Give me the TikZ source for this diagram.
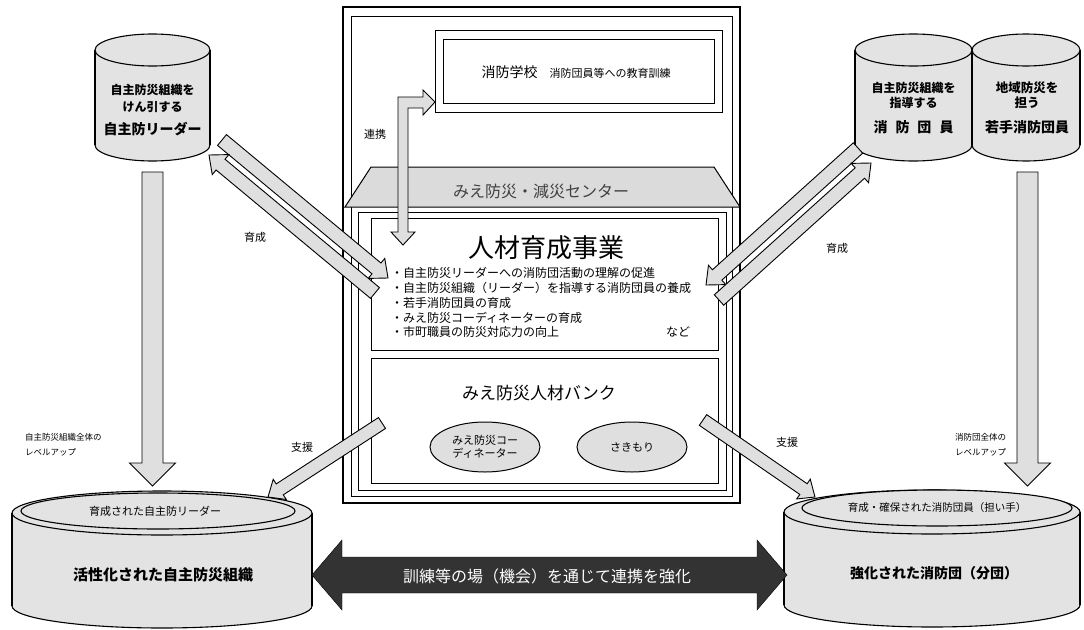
\documentclass[tikz,border=0pt]{standalone}
\usepackage{fontspec}
\setmainfont{Noto Sans CJK JP}
\usetikzlibrary{calc,shapes.geometric}
\tikzset{
  lbl/.style = {inner sep=0pt, outer sep=0pt, font=\fontsize{#1}{#1}\selectfont},
  lbl/.default = 11,
  blbl/.style = {inner sep=0pt, outer sep=0pt, font=\fontsize{#1}{#1}\selectfont\bfseries},
  blbl/.default = 12,
  frame/.style = {draw=black, line width=1pt},
  tone/.style = {fill=gray!28, draw=black, line width=1pt},
  blk/.style = {fill=gray!25, draw=black, line width=0.9pt},
  cyl/.style = {fill=gray!22, draw=black, line width=1.1pt},
  oval/.style = {ellipse, draw=black, line width=1pt, fill=gray!25,
                 minimum width=110pt, minimum height=50pt, inner sep=0pt,
                 align=center, font=\fontsize{11}{13}\selectfont}
}
% block arrow: [style]{from}{to}{half shaft}{half head}{head length}
\newcommand{\barrow}[6][blk]{%
  \coordinate (bh) at ($(#3)!#6!(#2)$);
  \filldraw[#1] ($(#2)!#4!90:(#3)$) -- ($(bh)!#4!90:(#3)$) -- ($(bh)!#5!90:(#3)$)
    -- (#3) -- ($(bh)!#5!-90:(#3)$) -- ($(bh)!#4!-90:(#3)$) -- ($(#2)!#4!-90:(#3)$) -- cycle;
}
% drum: {cx}{top}{bottom}{rx}{ry}
\newcommand{\drum}[5]{%
  \filldraw[cyl] (#1,#3) ellipse[x radius=#4, y radius=#5];
  \fill[gray!22] (#1-#4,#2) rectangle (#1+#4,#3);
  \draw[line width=1.1pt] (#1-#4,#2) -- (#1-#4,#3) (#1+#4,#2) -- (#1+#4,#3);
  \filldraw[cyl] (#1,#2) ellipse[x radius=#4, y radius=#5];
}
\begin{document}
\begin{tikzpicture}[x=1pt, y=-1pt]
	\useasboundingbox (0,0) rectangle (1084,629);

	% Outer frame
	\draw[frame, line width=1.3pt] (343,7) rectangle (740,503);
	\draw[frame] (351,16) rectangle (732,496);

	% Fire school
	\draw[frame] (435,30) rectangle (722,112);
	\draw[frame] (443,39) rectangle (714,103);
	\node[lbl=14] (school) at (576,72) {消防学校\hspace{12pt}{\fontsize{11}{11}\selectfont 消防団員等への教育訓練}};

	% Centre building
	\draw[frame] (358,212) rectangle (726,490);
	\filldraw[tone] (345,207) -- (371,167) -- (714,167) -- (740,207) -- cycle;
	\node[lbl=16, text=black!75] (centre) at (541,191) {みえ防災・減災センター};

	% Training box
	\draw[frame] (371,218) rectangle (718,350);
	\node[lbl=26] (jinzai) at (546,248) {人材育成事業};
	\node[lbl=12, anchor=west] (task1) at (391,273) {・自主防災リーダーへの消防団活動の理解の促進};
	\node[lbl=12, anchor=west] (task2) at (391,288) {・自主防災組織（リーダー）を指導する消防団員の養成};
	\node[lbl=12, anchor=west] (task3) at (391,303) {・若手消防団員の育成};
	\node[lbl=12, anchor=west] (task4) at (391,318) {・みえ防災コーディネーターの育成};
	\node[lbl=12, anchor=west] (task5) at (391,332) {・市町職員の防災対応力の向上};
	\node[lbl=12] (nado) at (678,332) {など};

	% Human resources bank
	\draw[frame] (371,358) rectangle (718,483);
	\node[lbl=17] (bank) at (539,393) {みえ防災人材バンク};
	\node[oval] (coord) at (485,447) {みえ防災コー\\ディネーター};
	\node[oval] (sakimori) at (632,447) {さきもり};

	% Link school <-> training
	\filldraw[blk] (403,245) -- (415,232) -- (408,232) -- (408,108) -- (423,108) -- (423,115)
		-- (435,102) -- (423,90) -- (423,97) -- (398,97) -- (398,232) -- (391,232) -- cycle;
	\node[lbl=11] (renkei) at (375,134) {連携};

	% Top drums
	\drum{152.5}{50}{145}{57.5}{16}
	\drum{1026}{50}{145}{54}{16}
	\drum{913.5}{50}{145}{58.5}{16}
	\node[blbl=12] (leadA) at (152.5,90) {自主防災組織を};
	\node[blbl=12] (leadB) at (152.5,107) {けん引する};
	\node[blbl=14] (leadC) at (152.5,129) {自主防リーダー};
	\node[blbl=12] (fireA) at (913.5,88) {自主防災組織を};
	\node[blbl=12] (fireB) at (913.5,103) {指導する};
	\node[blbl=14] (fireC) at (913.5,127) {消\hspace{8pt}防\hspace{8pt}団\hspace{8pt}員};
	\node[blbl=12.5] (youngA) at (1027,88) {地域防災を};
	\node[blbl=12.5] (youngB) at (1027,103) {担う};
	\node[blbl=14] (youngC) at (1027,127) {若手消防団員};

	% Bottom drums
	\drum{162}{513}{606}{150}{22}
	\filldraw[cyl] (158,511) ellipse[x radius=137, y radius=18];
	\drum{932}{512}{605}{148}{22}
	\filldraw[cyl] (937,508) ellipse[x radius=135, y radius=18];
	\node[lbl=11] (grown) at (155,511) {育成された自主防リーダー};
	\node[blbl=15] (active) at (163,575) {活性化された自主防災組織};
	\node[lbl=10.5] (secured) at (937,508) {育成・確保された消防団員（担い手）};
	\node[blbl=14] (strong) at (934,573) {強化された消防団（分団）};

	% Level-up arrows
	\coordinate (lupA) at (152.5,172);
	\coordinate (lupB) at (152.5,486);
	\coordinate (rupA) at (1027.5,172);
	\coordinate (rupB) at (1027.5,486);
	\barrow{lupA}{lupB}{10.5pt}{23pt}{23pt}
	\barrow{rupA}{rupB}{10.5pt}{23pt}{23pt}
	\node[lbl=8.5, anchor=west] (lvlL1) at (25,437) {自主防災組織全体の};
	\node[lbl=8.5, anchor=west] (lvlL2) at (25,452) {レベルアップ};
	\node[lbl=8.5, anchor=west] (lvlR1) at (955,437) {消防団全体の};
	\node[lbl=8.5, anchor=west] (lvlR2) at (955,452) {レベルアップ};

	% Training arrows
	\coordinate (ltA) at (222,140);
	\coordinate (ltB) at (388,278);
	\coordinate (lbA) at (375,293);
	\coordinate (lbB) at (209,155);
	\coordinate (rtA) at (858,148);
	\coordinate (rtB) at (706,285);
	\coordinate (rbA) at (719,300);
	\coordinate (rbB) at (871,163);
	\barrow{ltA}{ltB}{7pt}{13pt}{15pt}
	\barrow{lbA}{lbB}{7pt}{13pt}{15pt}
	\barrow{rtA}{rtB}{7pt}{13pt}{15pt}
	\barrow{rbA}{rbB}{7pt}{13pt}{15pt}
	\node[lbl=11] (ikuseiL) at (255,237) {育成};
	\node[lbl=11] (ikuseiR) at (837,248) {育成};

	% Support arrows
	\coordinate (slA) at (382,423);
	\coordinate (slB) at (268,497);
	\coordinate (srA) at (703,420);
	\coordinate (srB) at (815,497);
	\barrow{slA}{slB}{6.5pt}{12pt}{14pt}
	\barrow{srA}{srB}{6.5pt}{12pt}{14pt}
	\node[lbl=11] (shienL) at (302,447) {支援};
	\node[lbl=11] (shienR) at (787,442) {支援};

	% Cooperation arrow
	\filldraw[fill=black!80, draw=black] (312,575) -- (342,540) -- (342,557) -- (757,557) -- (757,540)
		-- (787,575) -- (757,610) -- (757,593) -- (342,593) -- (342,610) -- cycle;
	\node[lbl=16, text=white] (kunren) at (547,576) {訓練等の場（機会）を通じて連携を強化};

\end{tikzpicture}
\end{document}
